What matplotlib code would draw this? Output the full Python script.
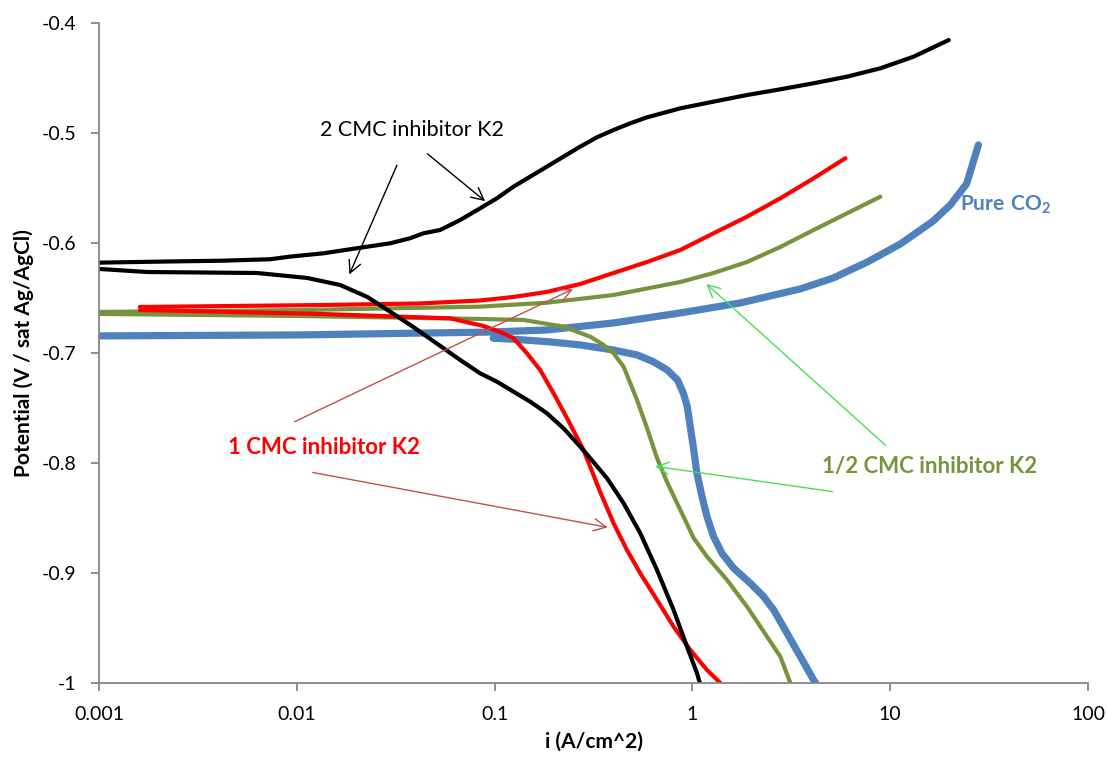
import matplotlib
matplotlib.use('Agg')
import matplotlib.pyplot as plt
import matplotlib.ticker as ticker

plt.rcParams['font.family'] = ['Lato', 'DejaVu Sans']
plt.rcParams['mathtext.fontset'] = 'custom'
plt.rcParams['mathtext.bf'] = 'Lato:bold'
plt.rcParams['mathtext.rm'] = 'Lato'

# Polarisation scans: current density (A/cm^2) and potential (V vs sat Ag/AgCl)
# 2 CMC inhibitor K2
i_2cmc_anodic = [0.001, 0.00196, 0.00425, 0.00733, 0.00925, 0.01363, 0.0201, 0.02965, 0.0374,
                 0.0437, 0.0531, 0.067, 0.0845, 0.1027, 0.1246, 0.1514, 0.1838, 0.2231, 0.271,
                 0.3292, 0.3994, 0.4852, 0.5893, 0.8684, 1.28, 1.888, 2.783, 4.10, 6.05, 8.92,
                 13.14, 19.76]
e_2cmc_anodic = [-0.6179, -0.617, -0.6161, -0.6148, -0.6124, -0.6094, -0.6048, -0.6003, -0.5957,
                 -0.5912, -0.5882, -0.5791, -0.5685, -0.5594, -0.5488, -0.5397, -0.5306, -0.5215,
                 -0.5124, -0.5039, -0.4973, -0.4912, -0.4858, -0.4776, -0.4715, -0.4655, -0.4603,
                 -0.4548, -0.4488, -0.4412, -0.4306, -0.4155]
i_2cmc_cathodic = [0.001, 0.00175, 0.0063, 0.01127, 0.01656, 0.0227, 0.02965, 0.0388, 0.0531,
                   0.067, 0.0845, 0.1027, 0.1246, 0.1514, 0.1838, 0.2231, 0.271, 0.3044, 0.370,
                   0.4488, 0.545, 0.662, 0.803, 0.939, 1.055, 1.09]
e_2cmc_cathodic = [-0.6236, -0.6264, -0.6273, -0.6318, -0.6382, -0.649, -0.6625, -0.6764, -0.6936,
                   -0.7064, -0.7185, -0.7261, -0.7352, -0.7443, -0.7548, -0.7685, -0.7852, -0.7957,
                   -0.8139, -0.8366, -0.8639, -0.8973, -0.9336, -0.967, -0.9912, -1.0]

# 1 CMC inhibitor K2
i_1cmc_anodic = [0.00161, 0.0136, 0.042, 0.0845, 0.1246, 0.1838, 0.271, 0.3994, 0.5893, 0.8684,
                 1.28, 1.888, 2.783, 4.10, 5.93]
e_1cmc_anodic = [-0.6582, -0.6564, -0.655, -0.6523, -0.6491, -0.6445, -0.6373, -0.6273, -0.6173,
                 -0.6064, -0.5912, -0.5761, -0.5594, -0.5412, -0.523]
i_1cmc_cathodic = [0.00161, 0.0131, 0.0333, 0.0596, 0.0879, 0.1067, 0.1246, 0.1457, 0.170, 0.1986,
                   0.2321, 0.2815, 0.342, 0.3994, 0.4668, 0.545, 0.662, 0.803, 0.9757, 1.185, 1.384]
e_1cmc_cathodic = [-0.6609, -0.6645, -0.667, -0.6685, -0.6755, -0.6809, -0.6866, -0.7003, -0.7155,
                   -0.7366, -0.7591, -0.7882, -0.8264, -0.8548, -0.8791, -0.9003, -0.9245, -0.9488,
                   -0.97, -0.9882, -1.0]

# 1/2 CMC inhibitor K2
i_half_anodic = [0.001, 0.0104, 0.0845, 0.1838, 0.3994, 0.8684, 1.28, 1.888, 2.783, 4.10, 6.05, 8.92]
e_half_anodic = [-0.6627, -0.661, -0.6579, -0.6543, -0.6473, -0.6355, -0.6273, -0.6173, -0.6036,
                 -0.5882, -0.573, -0.5579]
i_half_cathodic = [0.001, 0.0104, 0.0845, 0.140, 0.2231, 0.3044, 0.3554, 0.3994, 0.4488, 0.4852,
                   0.5245, 0.5893, 0.662, 0.7437, 0.8684, 1.014, 1.185, 1.496, 1.888, 2.384, 2.783,
                   3.126]
e_half_cathodic = [-0.6645, -0.6664, -0.6691, -0.670, -0.6761, -0.6852, -0.6927, -0.7003, -0.7125,
                   -0.7275, -0.7427, -0.7682, -0.7955, -0.8173, -0.8427, -0.8682, -0.8852, -0.9064,
                   -0.9306, -0.9579, -0.9761, -1.0]

# Pure CO2
i_co2_anodic = [0.001, 0.0104, 0.095, 0.1838, 0.3994, 0.8684, 1.747, 3.51, 5.16, 7.66, 11.26,
                16.5, 20.1, 24.3, 27.9]
e_co2_anodic = [-0.6845, -0.6836, -0.681, -0.6791, -0.6727, -0.6636, -0.6545, -0.6418, -0.6318,
                -0.6173, -0.6009, -0.58, -0.5655, -0.5464, -0.5109]
i_co2_cathodic = [0.0984, 0.1242, 0.1845, 0.271, 0.398, 0.526, 0.634, 0.746, 0.840, 0.900, 0.942,
                  0.975, 1.010, 1.054, 1.118, 1.185, 1.279, 1.411, 1.616, 1.963, 2.291, 2.574,
                  3.008, 3.513, 4.10, 4.19]
e_co2_cathodic = [-0.6866, -0.6875, -0.6897, -0.6927, -0.6973, -0.7018, -0.7079, -0.7155, -0.7245,
                  -0.7366, -0.7488, -0.767, -0.7852, -0.8094, -0.8306, -0.8488, -0.867, -0.8821,
                  -0.8957, -0.9094, -0.9215, -0.9336, -0.9548, -0.9761, -0.9973, -1.0]

x_ticks = [0.001, 0.01, 0.1, 1, 10, 100]
x_tick_labels = ['0.001', '0.01', '0.1', '1', '10', '100']
y_ticks = [-1.0, -0.9, -0.8, -0.7, -0.6, -0.5, -0.4]

black = '#000000'
red = '#ff0000'
olive = '#77933c'
blue = '#4f81bd'
axis_grey = '#868686'

fig = plt.figure(figsize=(11.07, 7.58), dpi=100)
ax = fig.add_axes([0.0894, 0.099, 0.8935, 0.8707])

line_style = dict(solid_capstyle='round', solid_joinstyle='round')
ax.plot(i_co2_anodic, e_co2_anodic, color=blue, lw=5.2, **line_style)
ax.plot(i_co2_cathodic, e_co2_cathodic, color=blue, lw=5.2, **line_style)
ax.plot(i_half_anodic, e_half_anodic, color=olive, lw=3.0, **line_style)
ax.plot(i_half_cathodic, e_half_cathodic, color=olive, lw=3.0, **line_style)
ax.plot(i_1cmc_anodic, e_1cmc_anodic, color=red, lw=3.0, **line_style)
ax.plot(i_1cmc_cathodic, e_1cmc_cathodic, color=red, lw=3.0, **line_style)
ax.plot(i_2cmc_anodic, e_2cmc_anodic, color=black, lw=3.0, **line_style)
ax.plot(i_2cmc_cathodic, e_2cmc_cathodic, color=black, lw=3.0, **line_style)

ax.set_xscale('log')
ax.set_xlim(0.001, 100)
ax.set_ylim(-1.0, -0.4)
ax.set_xticks(x_ticks)
ax.set_xticklabels(x_tick_labels)
ax.xaxis.set_minor_locator(ticker.NullLocator())
ax.set_yticks(y_ticks)
ax.yaxis.set_major_formatter(ticker.FuncFormatter(lambda v, _: f"{v:g}"))

for side in ['top', 'right']:
    ax.spines[side].set_visible(False)
for side in ['left', 'bottom']:
    ax.spines[side].set_color(axis_grey)
    ax.spines[side].set_linewidth(1.3)
ax.tick_params(axis='both', direction='out', length=6, width=1.3, color=axis_grey, labelsize=14)
ax.tick_params(axis='x', pad=10.5)
ax.tick_params(axis='y', pad=10)

ax.set_xlabel('i (A/cm^2)', fontsize=15, weight='bold', labelpad=6)
ax.set_ylabel('Potential (V / sat Ag/AgCl)', fontsize=15, weight='bold', labelpad=6)

# series labels with leader arrows
ax.text(0.0381, -0.4973, '2 CMC inhibitor K2', color=black, fontsize=15.5, ha='center', va='center')
ax.annotate('', xy=(0.0182, -0.631), xytext=(0.0325, -0.527),
            arrowprops=dict(arrowstyle='->', color=black, lw=1.0, mutation_scale=22))
ax.annotate('', xy=(0.0918, -0.5636), xytext=(0.0446, -0.5173),
            arrowprops=dict(arrowstyle='->', color=black, lw=1.0, mutation_scale=22))

ax.text(0.01374, -0.7855, '1 CMC inhibitor K2', color=red, fontsize=16, weight='bold',
        ha='center', va='center')
ax.annotate('', xy=(0.256, -0.6409), xytext=(0.00946, -0.7636),
            arrowprops=dict(arrowstyle='->', color='#c0504d', lw=1.0, mutation_scale=22))
ax.annotate('', xy=(0.385, -0.859), xytext=(0.01167, -0.8082),
            arrowprops=dict(arrowstyle='->', color='#c0504d', lw=1.0, mutation_scale=22))

ax.text(15.88, -0.8036, '1/2 CMC inhibitor K2', color=olive, fontsize=16, weight='bold',
        ha='center', va='center')
ax.annotate('', xy=(1.148, -0.6355), xytext=(9.68, -0.7855),
            arrowprops=dict(arrowstyle='->', color='#44e055', lw=1.0, mutation_scale=22))
ax.annotate('', xy=(0.627, -0.8027), xytext=(5.28, -0.8264),
            arrowprops=dict(arrowstyle='->', color='#44e055', lw=1.0, mutation_scale=22))

ax.text(38.2, -0.5655, r'$\mathbf{Pure\ CO_2}$', color=blue, fontsize=15,
        ha='center', va='center')

fig.savefig('out.png', dpi=100)
